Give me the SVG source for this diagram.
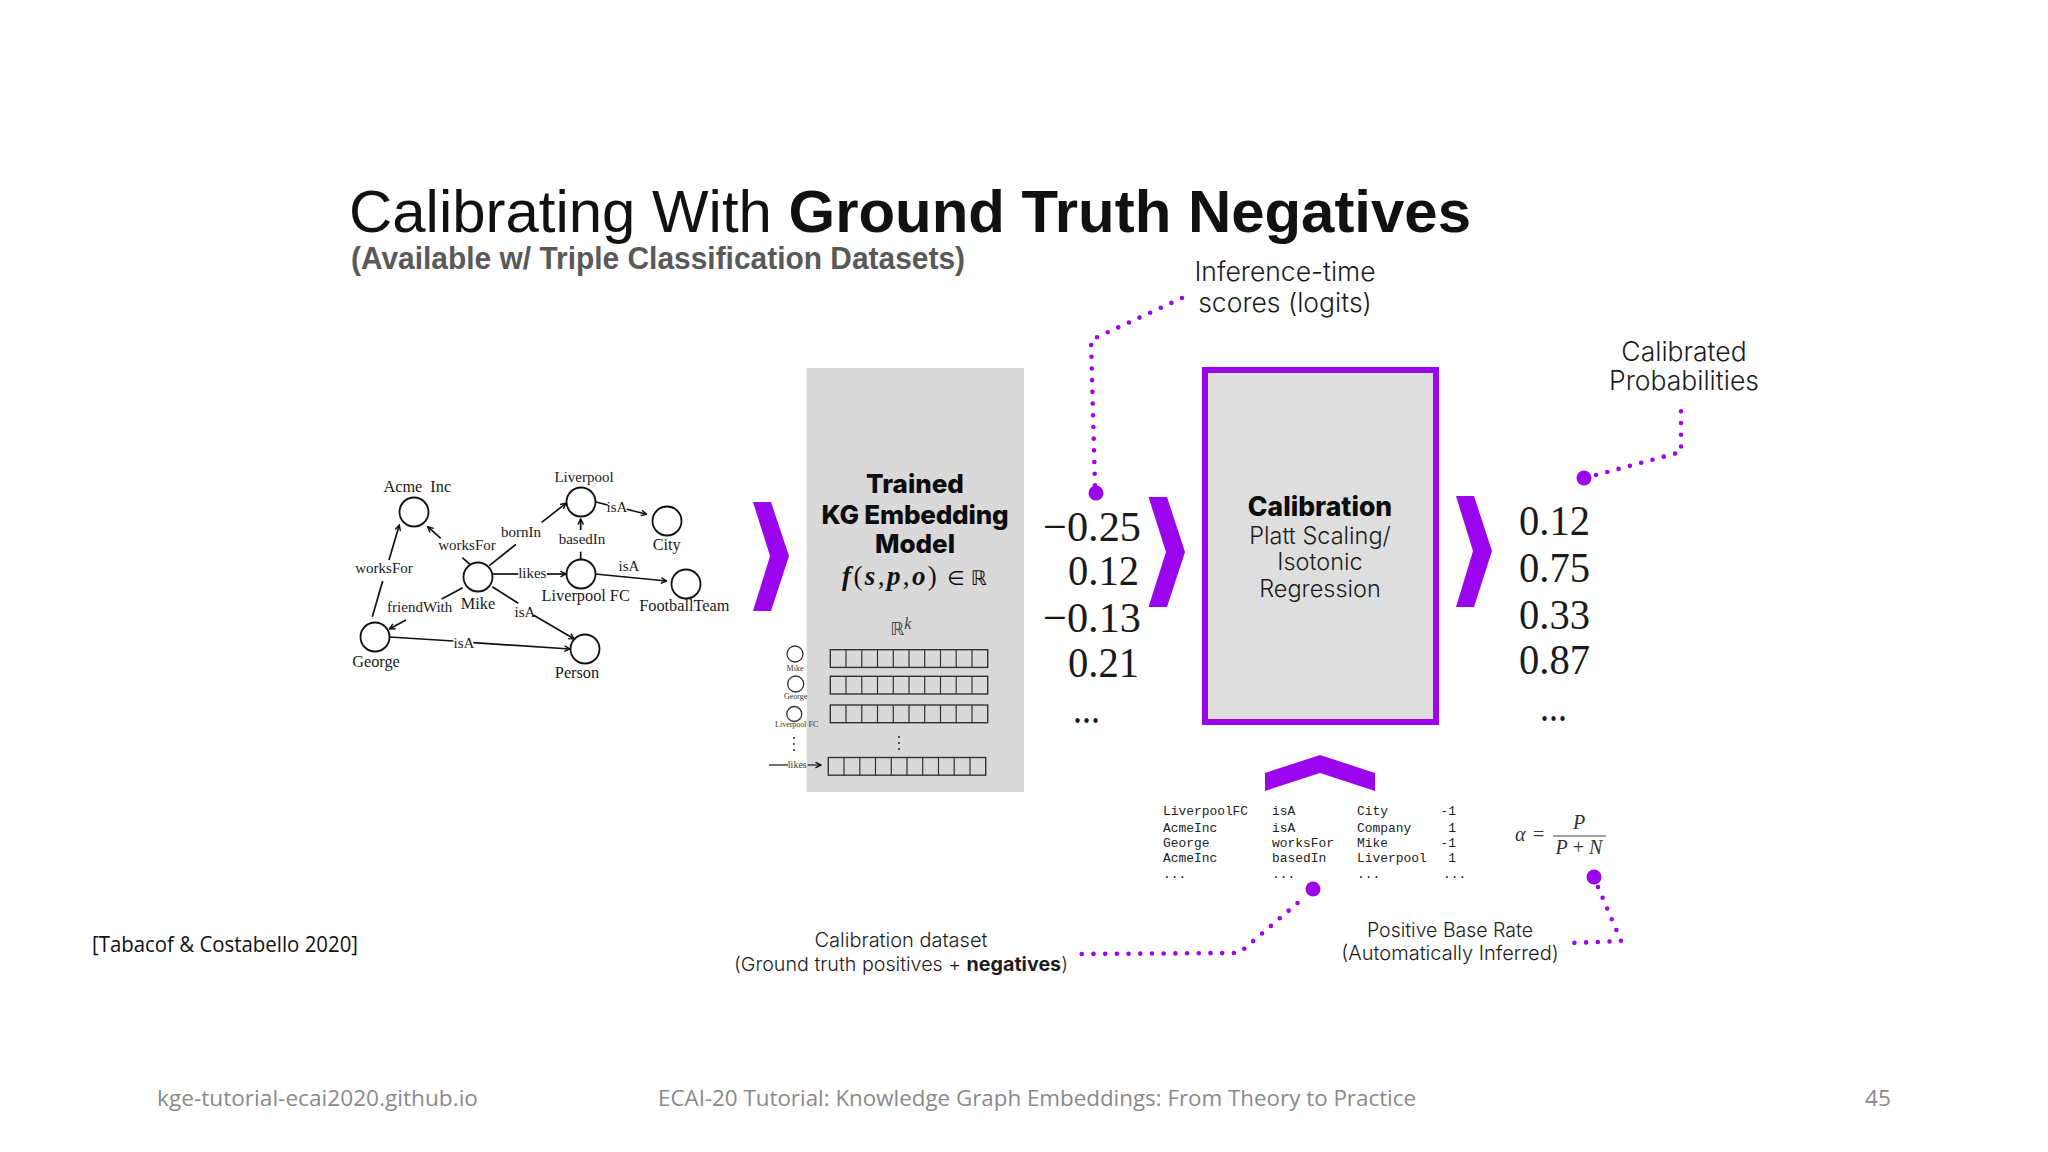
<svg xmlns="http://www.w3.org/2000/svg" xmlns:xlink="http://www.w3.org/1999/xlink" width="2048" height="1152" viewBox="0 0 2048 1152">
<style>
.g{font-family:"Liberation Serif",serif;font-size:16.3px;fill:#1a1a1a;text-anchor:middle}
.l{font-family:"Liberation Serif",serif;font-size:15px;fill:#1a1a1a;text-anchor:middle}
.s{font-family:"Liberation Serif",serif;font-size:8px;fill:#333;text-anchor:middle}
.n{fill:#fff;stroke:#111;stroke-width:1.8}
.n2{fill:none;stroke:#333;stroke-width:1.3}
.dot{fill:none;stroke:#9a05ee;stroke-width:4.6;stroke-linecap:round;stroke-dasharray:0 11.7;stroke-linejoin:round}
.pd{fill:#9a05ee}
.ch{fill:#9a05ee}
.i{font-family:Inter,sans-serif;fill:#1c1c1c;text-anchor:middle}
.v{font-family:"Liberation Serif",serif;font-size:43px;fill:#1a1a1a}
.m{font-family:"Liberation Mono",monospace;font-size:12.9px;fill:#222}
.f{font-family:"Open Sans",sans-serif;font-size:22px;fill:#8a8a8a}
.hb{font-family:Inter,sans-serif;font-weight:800;fill:#0c0c0c;text-anchor:middle}
.fm{font-family:"Liberation Serif",serif;fill:#333}
</style>
<defs>
<marker id="a" viewBox="0 0 10 10" refX="9" refY="5" markerWidth="7" markerHeight="7" markerUnits="userSpaceOnUse" orient="auto"><path d="M1 1L9 5L1 9" fill="none" stroke="#111" stroke-width="2"/></marker>
<g id="row"><rect x="0" y="0" width="157.4" height="17.7" fill="none" stroke="#333" stroke-width="1.4"/><path d="M15.7 0v17.7M31.5 0v17.7M47.2 0v17.7M63 0v17.7M78.7 0v17.7M94.4 0v17.7M110.2 0v17.7M125.9 0v17.7M141.7 0v17.7" fill="none" stroke="#333" stroke-width="1.2"/></g>
</defs>
<rect width="2048" height="1152" fill="#fff"/>

<g id="title">
<text x="349" y="232" font-family="Liberation Sans, sans-serif" font-size="60" fill="#111" textLength="1122" lengthAdjust="spacingAndGlyphs">Calibrating With <tspan font-weight="700">Ground Truth Negatives</tspan></text>
<text x="351" y="269" font-family="Liberation Sans, sans-serif" font-size="31" font-weight="700" fill="#595959" textLength="614" lengthAdjust="spacingAndGlyphs">(Available w/ Triple Classification Datasets)</text>
</g>

<g id="connectors">
<g stroke="#111" stroke-width="1.7" fill="none">
<path d="M372.3 616.7L382.7 581"/><path d="M389 560L399.3 525" marker-end="url(#a)"/>
<path d="M470 564.3L462.3 557.7"/><path d="M440.7 538.3L427.7 526.7" marker-end="url(#a)"/>
<path d="M489.3 565.7L516 544.3"/><path d="M541.7 522.3L566 503.3" marker-end="url(#a)"/>
<path d="M595 501.7L607.7 505"/><path d="M626.7 509.3L646.7 514.3" marker-end="url(#a)"/>
<path d="M580.7 559L580.7 551.7"/><path d="M580.7 530L580.7 519" marker-end="url(#a)"/>
<path d="M492.3 574L518.3 574"/><path d="M546.7 574L566 574" marker-end="url(#a)"/>
<path d="M595 574L666.7 581" marker-end="url(#a)"/>
<path d="M462.7 587.7L441.7 599"/><path d="M406 620L389.3 629" marker-end="url(#a)"/>
<path d="M492.3 586.7L518.3 603.3"/><path d="M533.3 615L574.3 639" marker-end="url(#a)"/>
<path d="M389.3 637L453.3 641"/><path d="M473.3 642.7L570 649" marker-end="url(#a)"/>
</g>
<path class="dot" d="M1182 298L1091 340L1095 486"/>
<path class="dot" d="M1596 475L1681 452L1681 400"/>
<path class="dot" d="M1297.5 903L1244 949L1238 953L1079 954"/>
<path class="dot" d="M1598 887L1621 941L1571 943"/>
<circle class="pd" cx="1096" cy="493" r="7.5"/>
<circle class="pd" cx="1584" cy="478" r="7.5"/>
<circle class="pd" cx="1313" cy="889" r="7.5"/>
<circle class="pd" cx="1594" cy="877" r="7.5"/>
</g>

<g id="knowledge-graph">
<g id="node-acme"><circle class="n" cx="414" cy="512" r="14.5"/><text class="g" x="417.3" y="492" word-spacing="4">Acme Inc</text></g>
<g id="node-liverpool"><circle class="n" cx="581" cy="502" r="14.5"/><text class="g" x="584" y="482" style="font-size:15px">Liverpool</text></g>
<g id="node-city"><circle class="n" cx="667" cy="521" r="14.5"/><text class="g" x="666.7" y="550">City</text></g>
<g id="node-mike"><circle class="n" cx="478" cy="577" r="14.5"/><text class="g" x="478" y="609">Mike</text></g>
<g id="node-liverpoolfc"><circle class="n" cx="581" cy="574" r="14.5"/><text class="g" x="585.7" y="601">Liverpool FC</text></g>
<g id="node-footballteam"><circle class="n" cx="686" cy="584" r="14.5"/><text class="g" x="684.3" y="610.7">FootballTeam</text></g>
<g id="node-george"><circle class="n" cx="375" cy="637" r="14.5"/><text class="g" x="376" y="666.7">George</text></g>
<g id="node-person"><circle class="n" cx="585" cy="649" r="14.5"/><text class="g" x="577" y="678">Person</text></g>
<g id="edge-labels">
<text class="l" x="384" y="573.3">worksFor</text>
<text class="l" x="467" y="550">worksFor</text>
<text class="l" x="521" y="536.7">bornIn</text>
<text class="l" x="617" y="511.7">isA</text>
<text class="l" x="582" y="544.3">basedIn</text>
<text class="l" x="532.3" y="578.3">likes</text>
<text class="l" x="629" y="571">isA</text>
<text class="l" x="419.7" y="612.3">friendWith</text>
<text class="l" x="525" y="616.7">isA</text>
<text class="l" x="464" y="647.7">isA</text>
</g>
</g>

<polygon id="chevron-1" class="ch" points="753,502 771,502 789,556 771,611 753,611 770,556"/>

<g id="model">
<rect x="806.7" y="368" width="217.3" height="424" fill="#d9d9d9"/>
<text class="hb" x="915" y="493" font-size="26">Trained</text>
<text class="hb" x="915" y="524" font-size="26" letter-spacing="-.2">KG Embedding</text>
<text class="hb" x="915" y="553" font-size="26">Model</text>
<text x="842" y="585" font-family="Liberation Serif, serif" font-size="27" fill="#111" letter-spacing="2.4"><tspan font-style="italic" font-weight="700">f</tspan>(<tspan font-style="italic" font-weight="700">s</tspan>,<tspan font-style="italic" font-weight="700">p</tspan>,<tspan font-style="italic" font-weight="700">o</tspan>)<tspan x="947" font-family="DejaVu Sans, sans-serif" font-size="20" letter-spacing="0">∈ ℝ</tspan></text>
<text x="890" y="635" font-family="DejaVu Sans, sans-serif" font-size="18" fill="#444">ℝ<tspan font-family="Liberation Serif, serif" font-style="italic" font-size="16" dy="-6">k</tspan></text>
<use xlink:href="#row" href="#row" x="830.3" y="649.7"/>
<use xlink:href="#row" href="#row" x="830.3" y="676.3"/>
<use xlink:href="#row" href="#row" x="830.3" y="705"/>
<use xlink:href="#row" href="#row" x="828.3" y="757.5"/>
<circle class="n2" cx="795" cy="654" r="8"/><text class="s" x="795" y="671">Mike</text>
<circle class="n2" cx="795.7" cy="684" r="8"/><text class="s" x="795.7" y="699">George</text>
<circle class="n2" cx="794.3" cy="714" r="7.5"/><text class="s" x="796.7" y="727">Liverpool FC</text>
<g fill="#333"><circle cx="794" cy="738" r="1.1"/><circle cx="794" cy="744" r="1.1"/><circle cx="794" cy="750" r="1.1"/><circle cx="899" cy="737" r="1.1"/><circle cx="899" cy="743" r="1.1"/><circle cx="899" cy="749" r="1.1"/></g>
<path d="M769 765H788" stroke="#222" stroke-width="1.3" fill="none"/>
<text x="797.3" y="768" font-family="Liberation Serif, serif" font-size="10" fill="#333" text-anchor="middle">likes</text>
<path d="M807.7 765H821" stroke="#222" stroke-width="1.3" fill="none" marker-end="url(#a)"/>
</g>

<g id="scores-logits">
<text x="1043" y="541" class="v" textLength="98" lengthAdjust="spacingAndGlyphs">−0.25</text>
<text x="1068" y="585" class="v" textLength="71" lengthAdjust="spacingAndGlyphs">0.12</text>
<text x="1043" y="632" class="v" textLength="98" lengthAdjust="spacingAndGlyphs">−0.13</text>
<text x="1068" y="677" class="v" textLength="71" lengthAdjust="spacingAndGlyphs">0.21</text>
<text x="1073" y="723" class="v" textLength="27" lengthAdjust="spacingAndGlyphs">...</text>
</g>

<polygon id="chevron-2" class="ch" points="1148.5,497 1167,497 1185,552 1167,607 1148.5,607 1166,552"/>

<g id="calibration">
<rect x="1205" y="370" width="231" height="352" fill="#dedede" stroke="#9a05ee" stroke-width="6"/>
<text class="hb" x="1320" y="516" font-size="26.5">Calibration</text>
<text class="i" x="1320" y="544" font-size="23.5" font-weight="300">Platt Scaling/</text>
<text class="i" x="1320" y="570" font-size="23.5" font-weight="300">Isotonic</text>
<text class="i" x="1320" y="597" font-size="23.5" font-weight="300">Regression</text>
</g>

<polygon id="chevron-3" class="ch" points="1456,496 1474,496 1492,551 1474,607 1456,607 1473,551"/>
<polygon id="chevron-up" class="ch" points="1265,773 1320,755 1375,773 1375,791 1320,773 1265,791"/>

<g id="probabilities">
<text x="1519" y="535" class="v" textLength="71" lengthAdjust="spacingAndGlyphs">0.12</text>
<text x="1519" y="582" class="v" textLength="71" lengthAdjust="spacingAndGlyphs">0.75</text>
<text x="1519" y="629" class="v" textLength="71" lengthAdjust="spacingAndGlyphs">0.33</text>
<text x="1519" y="674" class="v" textLength="71" lengthAdjust="spacingAndGlyphs">0.87</text>
<text x="1540" y="721" class="v" textLength="27" lengthAdjust="spacingAndGlyphs">...</text>
</g>

<g id="inference-label"><text class="i" x="1285" y="281" font-size="26.5" font-weight="300">Inference-time</text><text class="i" x="1285" y="312" font-size="26.5" font-weight="300">scores (logits)</text></g>
<g id="probabilities-label"><text class="i" x="1684" y="361" font-size="26.5" font-weight="300">Calibrated</text><text class="i" x="1684" y="390" font-size="26.5" font-weight="300">Probabilities</text></g>

<g id="calibration-table">
<text class="m" x="1163" y="815">LiverpoolFC</text><text class="m" x="1272" y="815">isA</text><text class="m" x="1357" y="815">City</text><text class="m" x="1456" y="815" text-anchor="end">-1</text>
<text class="m" x="1163" y="832">AcmeInc</text><text class="m" x="1272" y="832">isA</text><text class="m" x="1357" y="832">Company</text><text class="m" x="1456" y="832" text-anchor="end">1</text>
<text class="m" x="1163" y="847">George</text><text class="m" x="1272" y="847">worksFor</text><text class="m" x="1357" y="847">Mike</text><text class="m" x="1456" y="847" text-anchor="end">-1</text>
<text class="m" x="1163" y="862">AcmeInc</text><text class="m" x="1272" y="862">basedIn</text><text class="m" x="1357" y="862">Liverpool</text><text class="m" x="1456" y="862" text-anchor="end">1</text>
<text class="m" x="1163" y="878">...</text><text class="m" x="1272" y="878">...</text><text class="m" x="1357" y="878">...</text><text class="m" x="1443" y="878">...</text>
</g>

<g id="formula">
<text class="fm" x="1515" y="841" font-size="20" font-style="italic">α</text>
<text class="fm" x="1533" y="841" font-size="20">=</text>
<text class="fm" x="1579" y="829" font-size="20" font-style="italic" text-anchor="middle">P</text>
<path d="M1553 836H1606" stroke="#444" stroke-width="1" fill="none"/>
<text class="fm" x="1579" y="854" font-size="20" text-anchor="middle"><tspan font-style="italic">P</tspan> + <tspan font-style="italic">N</tspan></text>
</g>

<g id="dataset-label">
<text class="i" x="901" y="947" font-size="20" font-weight="300">Calibration dataset</text>
<text class="i" x="901" y="971" font-size="19" font-weight="300" textLength="334" lengthAdjust="spacingAndGlyphs">(Ground truth positives + <tspan font-weight="700">negatives</tspan>)</text>
</g>
<g id="baserate-label">
<text class="i" x="1450" y="937" font-size="19.5" font-weight="300">Positive Base Rate</text>
<text class="i" x="1450" y="960" font-size="20" font-weight="300">(Automatically Inferred)</text>
</g>

<text id="citation" x="92" y="952" font-family="Open Sans, sans-serif" font-size="21" fill="#111" textLength="266" lengthAdjust="spacingAndGlyphs">[Tabacof &amp; Costabello 2020]</text>
<g id="footer">
<text class="f" x="157" y="1106" textLength="321" lengthAdjust="spacingAndGlyphs">kge-tutorial-ecai2020.github.io</text>
<text class="f" x="658" y="1106" textLength="758" lengthAdjust="spacingAndGlyphs">ECAI-20 Tutorial: Knowledge Graph Embeddings: From Theory to Practice</text>
<text class="f" x="1865" y="1106" textLength="26" lengthAdjust="spacingAndGlyphs">45</text>
</g>
</svg>
